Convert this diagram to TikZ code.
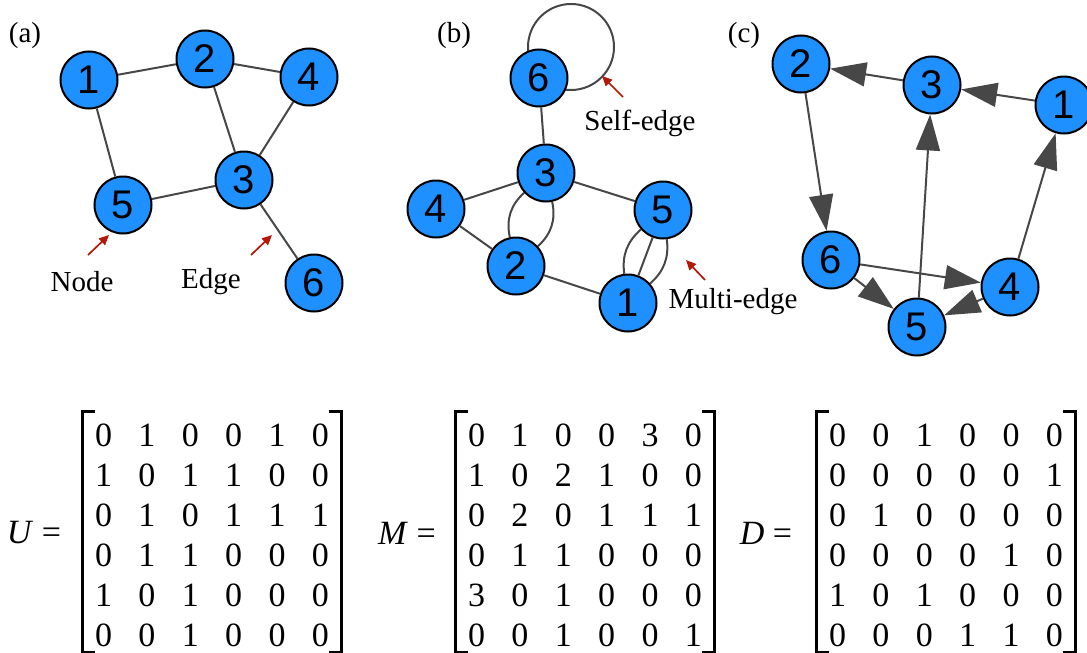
\documentclass[tikz,border=0pt]{standalone}
\usepackage{fontspec}
\setmainfont{Liberation Serif}
\newfontfamily\numfont{Liberation Sans}
\usepackage{xcolor}
\definecolor{nodeBlue}{RGB}{30,144,255}
\colorlet{colorEdge}{black!72}
\definecolor{colorPointer}{RGB}{180,24,8}
\usetikzlibrary{arrows.meta, positioning, backgrounds}
\tikzset{
  vertex/.style={circle, draw=black, line width=1pt, fill=nodeBlue, minimum size=28.5pt, inner sep=0pt, font=\numfont\fontsize{20}{24}\selectfont},
  link/.style={draw=colorEdge, line width=1pt},
  arc/.style={link, -{Triangle[length=18pt,width=12pt]}, colorEdge},
  pointer/.style={draw=colorPointer, line width=0.85pt, -{Triangle[length=5pt,width=4.5pt]}, colorPointer},
  caption/.style={font=\fontsize{14.5}{17}\selectfont},
  matlabel/.style={font=\fontsize{17}{20}\selectfont, inner sep=0pt},
  matbox/.style={font=\fontsize{17}{20}\selectfont, inner xsep=6pt, inner ysep=0pt},
  bracket/.style={draw=black, line width=1.2pt, miter limit=4},
}
\newcommand{\adjmat}[1]{\setlength{\tabcolsep}{6.6pt}\begin{tabular}{@{}*{6}{c}@{}}#1\end{tabular}}

\begin{document}
\begin{tikzpicture}[x=0.5pt, y=-0.5pt]
\clip (0,0) rectangle (1087,653);

% (a) undirected
\node[caption] (lblA) at (25,36) {(a)};
\node[vertex] (a1) at (89,80) {1};
\node[vertex] (a2) at (205,59) {2};
\node[vertex] (a4) at (309,77) {4};
\node[vertex] (a3) at (244,180) {3};
\node[vertex] (a5) at (123,205) {5};
\node[vertex] (a6) at (314,283) {6};
\draw [link] (a1) edge (a2);
\draw [link] (a2) edge (a4);
\draw [link] (a2) edge (a3);
\draw [link] (a4) edge (a3);
\draw [link] (a1) edge (a5);
\draw [link] (a5) edge (a3);
\draw [link] (a3) edge (a6);
\node[caption] (lblNode) at (82,282) {Node};
\node[caption] (lblEdge) at (211,282) {Edge};
\coordinate (ptrNodeTail) at (88,255);
\coordinate (ptrNodeTip) at (109,235);
\coordinate (ptrEdgeTail) at (251,255);
\coordinate (ptrEdgeTip) at (272,235);
\draw [pointer] (ptrNodeTail) -- (ptrNodeTip);
\draw [pointer] (ptrEdgeTail) -- (ptrEdgeTip);

% (b) multigraph
\node[caption] (lblB) at (454,36) {(b)};
\node[vertex] (b6) at (539,78) {6};
\node[vertex] (b3) at (546,173) {3};
\node[vertex] (b4) at (436,209) {4};
\node[vertex] (b5) at (663,210) {5};
\node[vertex] (b2) at (516,266) {2};
\node[vertex] (b1) at (628,303) {1};
\begin{scope}[on background layer]
\draw [link] (b6.center) ++(32,-31) circle[radius=21.5pt];
\end{scope}
\draw [link] (b6) edge (b3);
\draw [link] (b3) edge (b4);
\draw [link] (b3) edge (b5);
\draw [link] (b4) edge (b2);
\draw [link] (b2) edge [bend left=30] (b3);
\draw [link] (b2) edge [bend right=30] (b3);
\draw [link] (b2) edge (b1);
\draw [link] (b1) edge [bend left=28] (b5);
\draw [link] (b1) edge (b5);
\draw [link] (b1) edge [bend right=28] (b5);
\node[caption] (lblSelf) at (640,123) {Self-edge};
\node[caption] (lblMulti) at (733,302) {Multi-edge};
\coordinate (ptrSelfTail) at (623,97);
\coordinate (ptrSelfTip) at (602,76);
\coordinate (ptrMultiTail) at (705,280);
\coordinate (ptrMultiTip) at (686,260);
\draw [pointer] (ptrSelfTail) -- (ptrSelfTip);
\draw [pointer] (ptrMultiTail) -- (ptrMultiTip);

% (c) directed
\node[caption] (lblC) at (744,36) {(c)};
\node[vertex] (c2) at (801,64) {2};
\node[vertex] (c3) at (932,85) {3};
\node[vertex] (c1) at (1064,105) {1};
\node[vertex] (c6) at (831,260) {6};
\node[vertex] (c4) at (1010,287) {4};
\node[vertex] (c5) at (917,327) {5};
\draw [arc] (c3) edge (c2);
\draw [arc] (c1) edge (c3);
\draw [arc] (c2) edge (c6);
\draw [arc] (c5) edge (c3);
\draw [arc] (c4) edge (c1);
\draw [arc] (c6) edge (c4);
\draw [arc] (c6) edge (c5);
\draw [arc] (c4) edge (c5);

% adjacency matrices
\node[matlabel] (Ulbl) at (34,533) {\textit{U} =};
\node[matbox] (Umat) at (212,538) {\adjmat{0&1&0&0&1&0\\1&0&1&1&0&0\\0&1&0&1&1&1\\0&1&1&0&0&0\\1&0&1&0&0&0\\0&0&1&0&0&0}};
\node[matlabel] (Mlbl) at (407,533) {\textit{M} =};
\node[matbox] (Mmat) at (585,538) {\adjmat{0&1&0&0&3&0\\1&0&2&1&0&0\\0&2&0&1&1&1\\0&1&1&0&0&0\\3&0&1&0&0&0\\0&0&1&0&0&1}};
\node[matlabel] (Dlbl) at (766,533) {\textit{D} =};
\node[matbox] (Dmat) at (946,538) {\adjmat{0&0&1&0&0&0\\0&0&0&0&0&1\\0&1&0&0&0&0\\0&0&0&0&1&0\\1&0&1&0&0&0\\0&0&0&1&1&0}};
\foreach \m in {Umat, Mmat, Dmat} {
  \draw [bracket] ([xshift=6pt, yshift=3pt]\m.north west) -- ([yshift=3pt]\m.north west) -- ([yshift=3pt]\m.south west) -- ([xshift=6pt, yshift=3pt]\m.south west);
  \draw [bracket] ([xshift=-6pt, yshift=3pt]\m.north east) -- ([yshift=3pt]\m.north east) -- ([yshift=3pt]\m.south east) -- ([xshift=-6pt, yshift=3pt]\m.south east);
}
\end{tikzpicture}
\end{document}
